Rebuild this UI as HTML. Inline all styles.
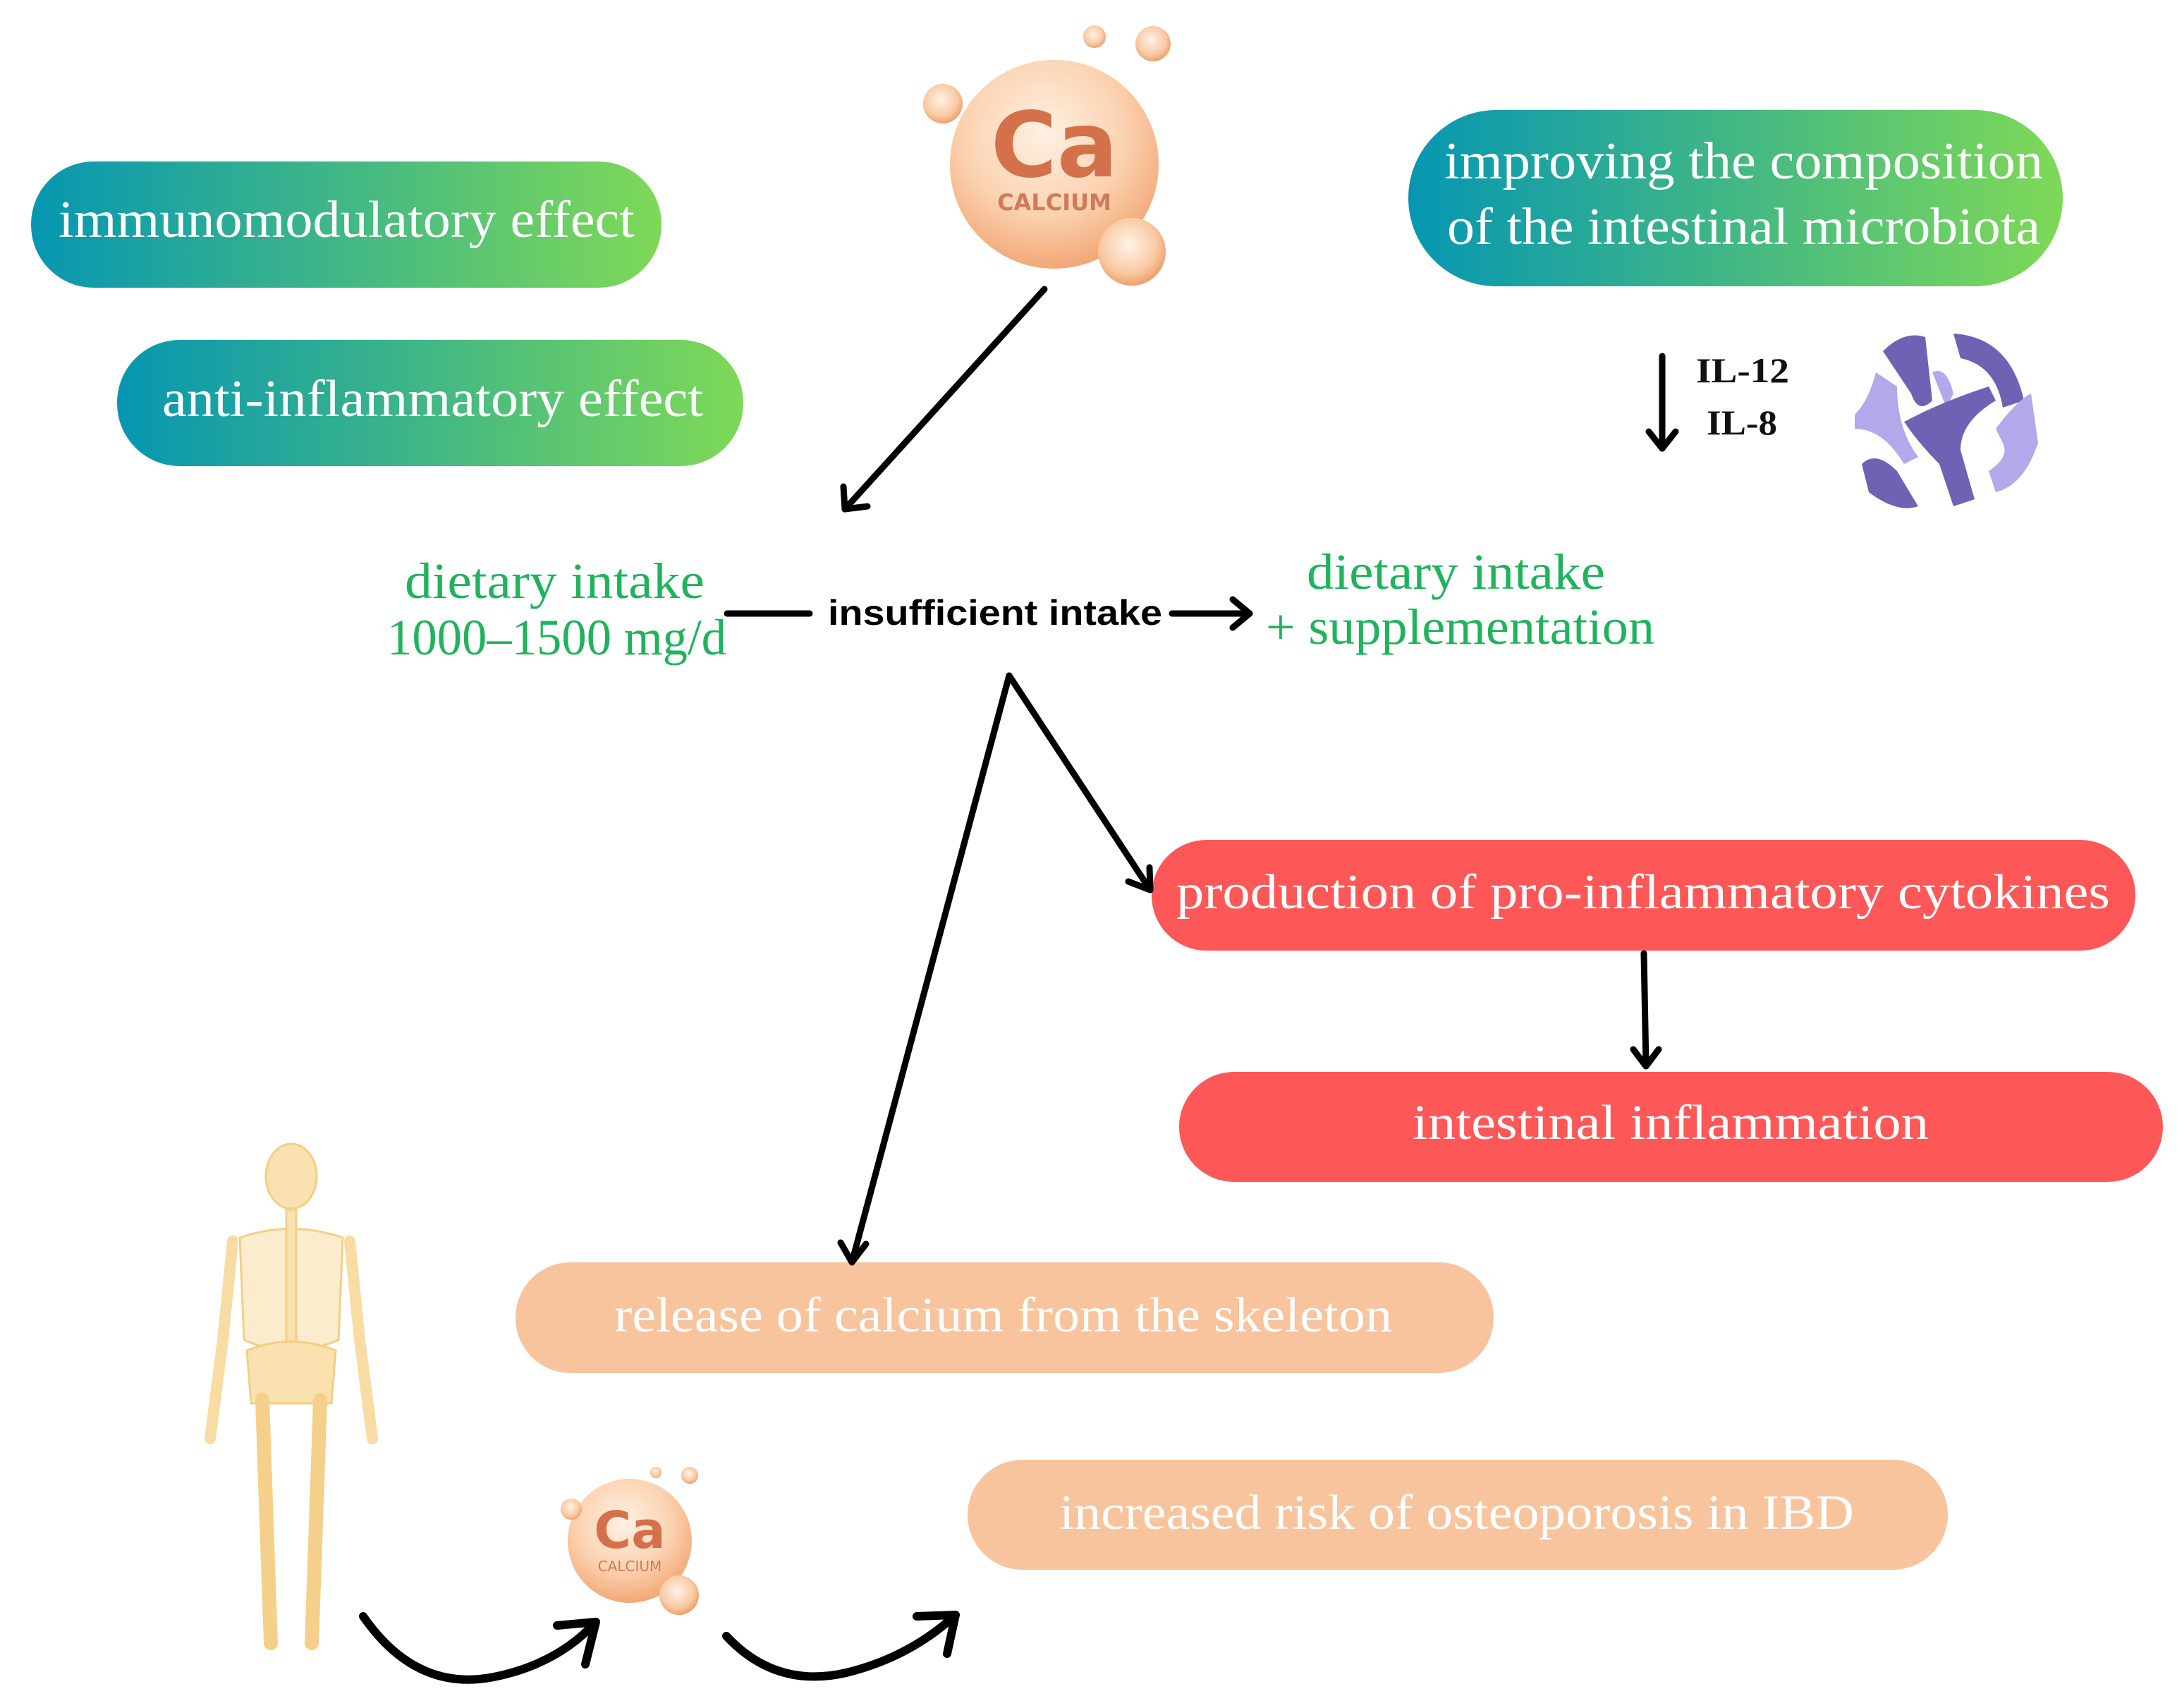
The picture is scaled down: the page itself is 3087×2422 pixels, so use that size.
<!DOCTYPE html>
<html><head><meta charset="utf-8"><style>html,body{margin:0;padding:0;background:#fff}svg{display:block}</style></head>
<body>
<svg width="3087" height="2422" viewBox="0 0 3087 2422" xmlns="http://www.w3.org/2000/svg">
<defs>
<linearGradient id="tg" x1="0" y1="0" x2="1" y2="0"><stop offset="0" stop-color="#0696b2"/><stop offset="1" stop-color="#7fd957"/></linearGradient>
<radialGradient id="ball" cx="0.45" cy="0.35" r="0.65"><stop offset="0" stop-color="#fff1e4"/><stop offset="0.6" stop-color="#fbd2b0"/><stop offset="1" stop-color="#f2a877"/></radialGradient>
<radialGradient id="sb" cx="0.45" cy="0.4" r="0.6"><stop offset="0" stop-color="#fff3e8"/><stop offset="0.7" stop-color="#f9c9a2"/><stop offset="1" stop-color="#ee9f6c"/></radialGradient>
</defs>
<g font-family="Liberation Serif, serif" fill="#fff">
<rect x="44" y="229" width="894" height="179" rx="89" fill="url(#tg)"/>
<text x="83" y="336" font-size="74" textLength="817" lengthAdjust="spacingAndGlyphs">immunomodulatory effect</text>
<rect x="166" y="482" width="888" height="179" rx="89" fill="url(#tg)"/>
<text x="230" y="590" font-size="74" textLength="767" lengthAdjust="spacingAndGlyphs">anti-inflammatory effect</text>
<rect x="1997" y="156" width="928" height="250" rx="125" fill="url(#tg)"/>
<text x="2048" y="253" font-size="74" textLength="849" lengthAdjust="spacingAndGlyphs">improving the composition</text>
<text x="2052" y="346" font-size="74" textLength="841" lengthAdjust="spacingAndGlyphs">of the intestinal microbiota</text>
<rect x="1633" y="1191" width="1395" height="157" rx="78" fill="#fe5757"/>
<text x="1668" y="1288" font-size="70" textLength="1324" lengthAdjust="spacingAndGlyphs">production of pro-inflammatory cytokines</text>
<rect x="1672" y="1520" width="1395" height="156" rx="78" fill="#fe5757"/>
<text x="2003" y="1615" font-size="70" textLength="732" lengthAdjust="spacingAndGlyphs">intestinal inflammation</text>
<rect x="731" y="1790" width="1387" height="157" rx="78" fill="#f8c49d"/>
<text x="871" y="1888" font-size="70" textLength="1103" lengthAdjust="spacingAndGlyphs">release of calcium from the skeleton</text>
<rect x="1372" y="2070" width="1390" height="156" rx="78" fill="#f8c49d"/>
<text x="1502" y="2168" font-size="70" textLength="1127" lengthAdjust="spacingAndGlyphs">increased risk of osteoporosis in IBD</text>
</g>
<g font-family="Liberation Serif, serif" fill="#1fb35c" font-size="72">
<text x="574" y="848" textLength="425" lengthAdjust="spacingAndGlyphs">dietary intake</text>
<text x="549" y="928" textLength="481" lengthAdjust="spacingAndGlyphs">1000–1500 mg/d</text>
<text x="1853" y="835" textLength="423" lengthAdjust="spacingAndGlyphs">dietary intake</text>
<text x="1795" y="913" textLength="551" lengthAdjust="spacingAndGlyphs">+ supplementation</text>
</g>
<text x="1174" y="886" font-family="Liberation Sans, sans-serif" font-weight="bold" font-size="50" textLength="474" lengthAdjust="spacingAndGlyphs">insufficient intake</text>
<g font-family="Liberation Serif, serif" font-weight="bold" font-size="50" fill="#111">
<text x="2405" y="542" textLength="132" lengthAdjust="spacingAndGlyphs">IL-12</text>
<text x="2420" y="616" textLength="100" lengthAdjust="spacingAndGlyphs">IL-8</text>
</g>
<g stroke="#000" stroke-width="9" fill="none" stroke-linecap="round" stroke-linejoin="round">
<line x1="1031" y1="870" x2="1148" y2="870"/>
<line x1="1481" y1="410" x2="1198" y2="722"/><polyline points="1196,690 1198,722 1230,718"/>
<line x1="1662" y1="870" x2="1772" y2="870"/><polyline points="1748,850 1772,870 1748,890"/>
<line x1="2357" y1="505" x2="2357" y2="636"/><polyline points="2338,612 2357,636 2376,612"/>
<line x1="1431" y1="958" x2="1631" y2="1262"/><polyline points="1600,1250 1631,1262 1630,1230"/>
<line x1="1431" y1="958" x2="1208" y2="1790"/><polyline points="1192,1762 1208,1790 1228,1764"/>
<line x1="2331" y1="1352" x2="2334" y2="1510"/><polyline points="2316,1488 2334,1512 2352,1488"/>
<path d="M515,2292 Q590,2400 700,2378 Q790,2360 845,2300" stroke-width="12"/><polyline points="790,2305 845,2300 830,2360" stroke-width="12"/>
<path d="M1030,2320 Q1100,2395 1200,2372 Q1290,2350 1355,2290" stroke-width="12"/><polyline points="1300,2292 1355,2290 1343,2345" stroke-width="12"/>
</g>
<g>
<circle cx="1495" cy="233" r="148" fill="url(#ball)"/>
<circle cx="1337" cy="147" r="28" fill="url(#sb)"/>
<circle cx="1552" cy="52" r="16" fill="url(#sb)"/>
<circle cx="1635" cy="62" r="25" fill="url(#sb)"/>
<circle cx="1605" cy="357" r="48" fill="url(#sb)"/>
<text x="1495" y="250" text-anchor="middle" font-family="DejaVu Sans, sans-serif" font-weight="bold" font-size="128" fill="#d4704a">Ca</text>
<text x="1495" y="298" text-anchor="middle" font-family="DejaVu Sans, sans-serif" font-weight="bold" font-size="32" fill="#cf7a5a">CALCIUM</text>
</g>
<g>
<circle cx="893" cy="2185" r="88" fill="url(#ball)"/>
<circle cx="810" cy="2140" r="15" fill="url(#sb)"/>
<circle cx="930" cy="2088" r="8" fill="url(#sb)"/>
<circle cx="978" cy="2092" r="12" fill="url(#sb)"/>
<circle cx="963" cy="2262" r="28" fill="url(#sb)"/>
<text x="893" y="2195" text-anchor="middle" font-family="DejaVu Sans, sans-serif" font-weight="bold" font-size="72" fill="#d4704a">Ca</text>
<text x="893" y="2228" text-anchor="middle" font-family="DejaVu Sans, sans-serif" font-size="20" fill="#cf7a5a">CALCIUM</text>
</g>
<g fill="#f9e1b0" stroke="#f3cf86" stroke-width="3">
<ellipse cx="413" cy="1668" rx="36" ry="46"/>
<path d="M340,1755 Q413,1730 486,1755 L480,1900 Q413,1930 346,1900 Z" fill="#fbeccd"/>
<rect x="406" y="1715" width="14" height="200"/>
<path d="M350,1915 Q413,1890 476,1915 L470,1990 L356,1990 Z"/>
<path d="M330,1760 L316,1900 L298,2040" stroke-width="16" fill="none" stroke="#f8dca3" stroke-linecap="round"/>
<path d="M496,1760 L510,1900 L528,2040" stroke-width="16" fill="none" stroke="#f8dca3" stroke-linecap="round"/>
<path d="M372,1985 L378,2160 L384,2330" stroke-width="20" fill="none" stroke="#f4d08a" stroke-linecap="round"/>
<path d="M454,1985 L448,2160 L442,2330" stroke-width="20" fill="none" stroke="#f4d08a" stroke-linecap="round"/>
</g>
<g transform="translate(2760,588)">
<path d="M-90,-90 Q-60,-120 -30,-110 L-20,-20 Q-40,0 -50,-30 Z" fill="#6e62b5"/>
<path d="M10,-115 Q90,-110 110,-20 L80,-10 Q70,-70 20,-80 Z" fill="#6e62b5"/>
<path d="M-20,-60 Q0,-70 10,-30 L0,-10 Z" fill="#b1a9ea"/>
<path d="M-130,0 Q-110,-20 -100,-60 L-70,-40 Q-70,20 -40,60 L-60,70 Q-90,20 -130,20 Z" fill="#b1a9ea"/>
<path d="M-40,0 Q0,-20 60,-40 L70,-20 Q20,10 20,50 L40,120 L10,130 L-10,70 Q-40,40 -60,10 Z" fill="#6e62b5"/>
<path d="M70,20 Q100,-20 120,-30 L130,40 Q110,100 70,110 L60,80 Q90,60 80,40 Z" fill="#b1a9ea"/>
<path d="M-120,70 Q-100,50 -70,80 L-40,130 Q-70,140 -110,110 Z" fill="#6e62b5"/>
</g>
</svg>
</body></html>
